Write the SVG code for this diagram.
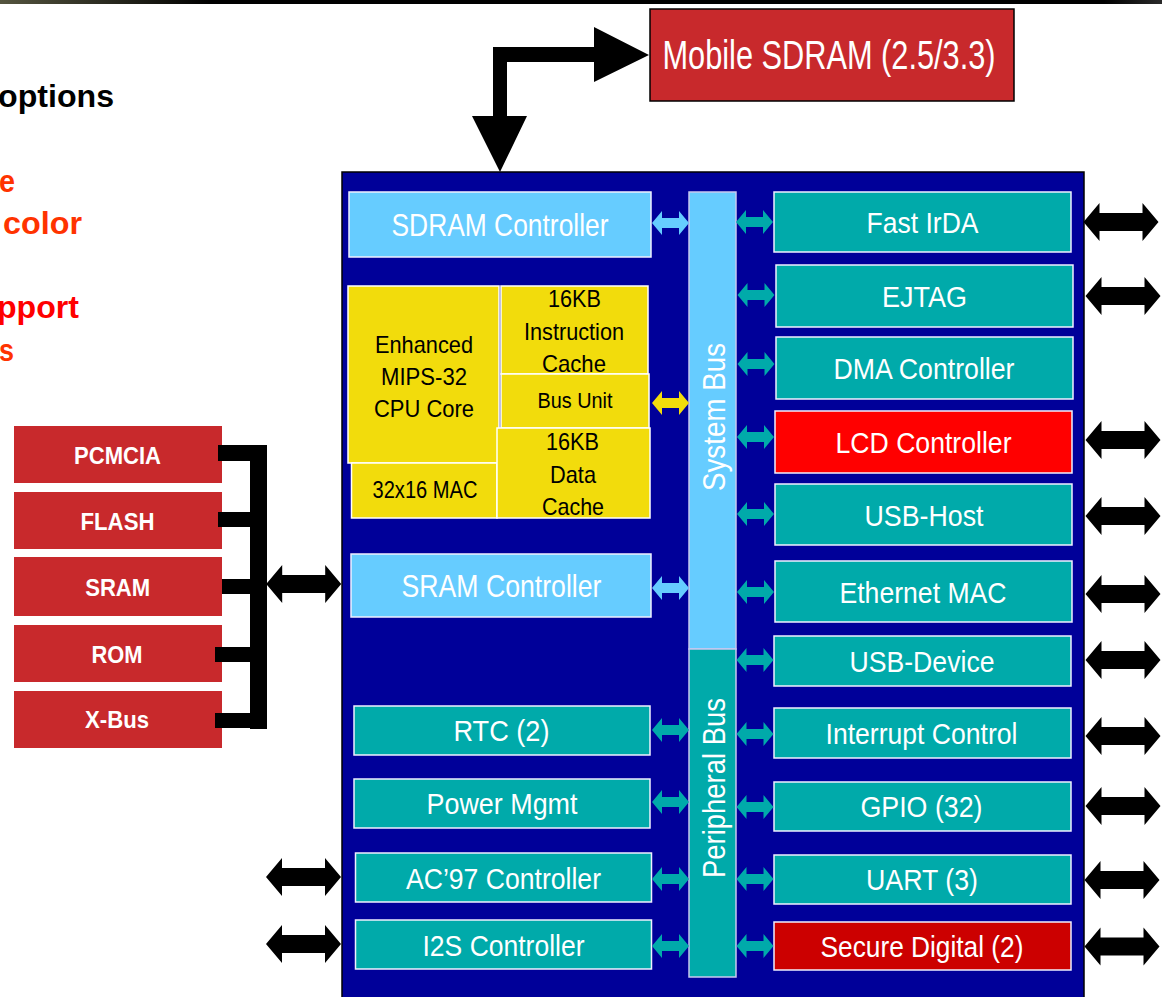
<svg xmlns="http://www.w3.org/2000/svg" xmlns:xlink="http://www.w3.org/1999/xlink" width="1162" height="997" viewBox="0 0 1162 997">
<defs>
<linearGradient id="topbar" x1="0" y1="0" x2="1" y2="0">
<stop offset="0" stop-color="#55553f"/>
<stop offset="0.18" stop-color="#000000"/>
<stop offset="0.95" stop-color="#000000"/>
<stop offset="1" stop-color="#2a2a2a"/>
</linearGradient>
<path id="barrow" d="M-37.5,0 L-21.5,-19 L-21.5,-9 L21.5,-9 L21.5,-19 L37.5,0 L21.5,19 L21.5,9 L-21.5,9 L-21.5,19 Z"/>
<path id="sarrow" d="M-18.5,0 L-8.5,-12 L-8.5,-5 L8.5,-5 L8.5,-12 L18.5,0 L8.5,12 L8.5,5 L-8.5,5 L-8.5,12 Z"/>
</defs>
<style>
.note{font-family:"Liberation Sans",Arial,sans-serif;font-weight:bold;font-size:32px;}
.lbl{font-family:"Liberation Sans",Arial,sans-serif;font-size:30px;fill:#fff;text-anchor:middle;}
.big{font-size:32px;}
.cpu{font-family:"Liberation Sans",Arial,sans-serif;font-size:24px;fill:#000;text-anchor:middle;}
.mem{font-family:"Liberation Sans",Arial,sans-serif;font-weight:bold;font-size:24px;fill:#fff;text-anchor:middle;}
.teal{fill:#00AAAA;stroke:#f0f0ff;stroke-width:1.5;}
.lblue{fill:#66CCFF;stroke:#f0f0ff;stroke-width:1.5;}
.yel{fill:#F2DC0C;stroke:#ffffff;stroke-width:1.5;}
.memr{fill:#C8292C;}
.bus{stroke:#c8c8f0;stroke-width:1.5;}
</style>
<rect x="0" y="0" width="1162" height="4" fill="url(#topbar)"/>
<g id="notes">
<text class="note" x="114" y="107" text-anchor="end" textLength="116" lengthAdjust="spacingAndGlyphs" fill="#000">options</text>
<text class="note" x="15" y="192" text-anchor="end" textLength="16" lengthAdjust="spacingAndGlyphs" fill="#FF3300">e</text>
<text class="note" x="82" y="234" text-anchor="end" textLength="79" lengthAdjust="spacingAndGlyphs" fill="#FF3300">color</text>
<text class="note" x="79" y="318" text-anchor="end" textLength="82" lengthAdjust="spacingAndGlyphs" fill="#FF0000">pport</text>
<text class="note" x="14" y="361" text-anchor="end" textLength="15" lengthAdjust="spacingAndGlyphs" fill="#FF3300">s</text>
</g>
<g id="chip">
<rect x="342" y="172" width="742" height="830" fill="#000099" stroke="#000" stroke-width="1.5"/>
</g>
<g id="mobile-sdram">
<rect x="650" y="9" width="364" height="92" fill="#C8292C" stroke="#000" stroke-width="1.5"/>
<text class="lbl" x="829" y="69" style="font-size:40px" textLength="333" lengthAdjust="spacingAndGlyphs">Mobile SDRAM (2.5/3.3)</text>
</g>
<g id="system-bus">
<rect class="bus" x="689" y="192" width="47" height="457" fill="#66CCFF"/>
<text class="lbl big" transform="translate(725,417) rotate(-90)" x="0" y="0" textLength="148" lengthAdjust="spacingAndGlyphs">System Bus</text>
</g>
<g id="peripheral-bus">
<rect class="bus" x="689" y="649" width="47" height="328" fill="#00AAAA"/>
<text class="lbl big" transform="translate(725,788) rotate(-90)" x="0" y="0" textLength="180" lengthAdjust="spacingAndGlyphs">Peripheral Bus</text>
</g>
<g id="sdram-controller">
<rect class="lblue" x="349" y="192" width="302" height="65"/>
<text class="lbl big" x="500" y="236" textLength="217" lengthAdjust="spacingAndGlyphs">SDRAM Controller</text>
</g>
<g id="cpu-core">
<rect class="yel" x="348" y="286" width="151" height="177"/>
<text class="cpu" x="424" y="353" textLength="98" lengthAdjust="spacingAndGlyphs">Enhanced</text>
<text class="cpu" x="424" y="385" textLength="86" lengthAdjust="spacingAndGlyphs">MIPS-32</text>
<text class="cpu" x="424" y="417" textLength="100" lengthAdjust="spacingAndGlyphs">CPU Core</text>
</g>
<g id="mac">
<rect class="yel" x="351.5" y="463" width="145.5" height="55"/>
<text class="cpu" x="425" y="498" textLength="105" lengthAdjust="spacingAndGlyphs">32x16 MAC</text>
</g>
<g id="icache">
<rect class="yel" x="501" y="286" width="147" height="88"/>
<text class="cpu" x="574.5" y="307" textLength="53" lengthAdjust="spacingAndGlyphs">16KB</text>
<text class="cpu" x="574" y="340" textLength="100" lengthAdjust="spacingAndGlyphs">Instruction</text>
<text class="cpu" x="574" y="372" textLength="64" lengthAdjust="spacingAndGlyphs">Cache</text>
</g>
<g id="bus-unit">
<rect class="yel" x="501" y="374" width="148" height="54"/>
<text class="cpu" x="575" y="408" style="font-size:22px" textLength="75" lengthAdjust="spacingAndGlyphs">Bus Unit</text>
</g>
<g id="dcache">
<rect class="yel" x="497" y="428" width="153" height="90"/>
<text class="cpu" x="572.5" y="450" textLength="53" lengthAdjust="spacingAndGlyphs">16KB</text>
<text class="cpu" x="573" y="483" textLength="46" lengthAdjust="spacingAndGlyphs">Data</text>
<text class="cpu" x="573" y="515" textLength="62" lengthAdjust="spacingAndGlyphs">Cache</text>
</g>
<g id="sram-controller">
<rect class="lblue" x="351" y="554" width="300" height="63"/>
<text class="lbl big" x="501.5" y="597" textLength="200" lengthAdjust="spacingAndGlyphs">SRAM Controller</text>
</g>
<g id="rtc">
<rect class="teal" x="354" y="706" width="296" height="49"/>
<text class="lbl" x="501.5" y="741" textLength="96" lengthAdjust="spacingAndGlyphs">RTC (2)</text>
</g>
<g id="power-mgmt">
<rect class="teal" x="354" y="779" width="296" height="49"/>
<text class="lbl" x="502" y="814" textLength="151" lengthAdjust="spacingAndGlyphs">Power Mgmt</text>
</g>
<g id="ac97">
<rect class="teal" x="355.5" y="853" width="296" height="49"/>
<text class="lbl" x="503.5" y="889" textLength="195" lengthAdjust="spacingAndGlyphs">AC’97 Controller</text>
</g>
<g id="i2s">
<rect class="teal" x="355.5" y="920" width="296" height="49"/>
<text class="lbl" x="503.5" y="956" textLength="162" lengthAdjust="spacingAndGlyphs">I2S Controller</text>
</g>
<g id="fast-irda">
<rect class="teal" x="774" y="192" width="297" height="60"/>
<text class="lbl" x="922.5" y="233" textLength="112" lengthAdjust="spacingAndGlyphs">Fast IrDA</text>
</g>
<g id="ejtag">
<rect class="teal" x="776" y="265" width="297" height="62"/>
<text class="lbl" x="924.5" y="307" textLength="85" lengthAdjust="spacingAndGlyphs">EJTAG</text>
</g>
<g id="dma">
<rect class="teal" x="776" y="337" width="297" height="62"/>
<text class="lbl" x="924" y="379" textLength="181" lengthAdjust="spacingAndGlyphs">DMA Controller</text>
</g>
<g id="lcd">
<rect x="775" y="411" width="297" height="62" fill="#FF0000" stroke="#f0f0ff" stroke-width="1.5"/>
<text class="lbl" x="923.5" y="453" textLength="176" lengthAdjust="spacingAndGlyphs">LCD Controller</text>
</g>
<g id="usb-host">
<rect class="teal" x="775" y="484" width="297" height="61"/>
<text class="lbl" x="924" y="526" textLength="119" lengthAdjust="spacingAndGlyphs">USB-Host</text>
</g>
<g id="ethernet">
<rect class="teal" x="775" y="561" width="297" height="61"/>
<text class="lbl" x="923" y="603" textLength="167" lengthAdjust="spacingAndGlyphs">Ethernet MAC</text>
</g>
<g id="usb-device">
<rect class="teal" x="774" y="636" width="297" height="50"/>
<text class="lbl" x="922" y="672" textLength="145" lengthAdjust="spacingAndGlyphs">USB-Device</text>
</g>
<g id="interrupt">
<rect class="teal" x="774" y="708" width="297" height="50"/>
<text class="lbl" x="921.5" y="744" textLength="192" lengthAdjust="spacingAndGlyphs">Interrupt Control</text>
</g>
<g id="gpio">
<rect class="teal" x="774" y="782" width="297" height="49"/>
<text class="lbl" x="921.5" y="817" textLength="122" lengthAdjust="spacingAndGlyphs">GPIO (32)</text>
</g>
<g id="uart">
<rect class="teal" x="774" y="855" width="297" height="49"/>
<text class="lbl" x="922" y="890" textLength="112" lengthAdjust="spacingAndGlyphs">UART (3)</text>
</g>
<g id="secure-digital">
<rect x="774" y="922" width="297" height="48" fill="#CC0000" stroke="#f0f0ff" stroke-width="1.5"/>
<text class="lbl" x="922" y="957" textLength="203" lengthAdjust="spacingAndGlyphs">Secure Digital (2)</text>
</g>
<g id="pcmcia">
<rect class="memr" x="14" y="426" width="208" height="57"/>
<text class="mem" x="117.5" y="464" textLength="87" lengthAdjust="spacingAndGlyphs">PCMCIA</text>
</g>
<g id="flash">
<rect class="memr" x="14" y="492" width="208" height="57"/>
<text class="mem" x="117.5" y="530" textLength="74" lengthAdjust="spacingAndGlyphs">FLASH</text>
</g>
<g id="sram">
<rect class="memr" x="14" y="557" width="208" height="59"/>
<text class="mem" x="117.7" y="596" textLength="65" lengthAdjust="spacingAndGlyphs">SRAM</text>
</g>
<g id="rom">
<rect class="memr" x="14" y="625" width="208" height="57"/>
<text class="mem" x="117" y="663" textLength="51" lengthAdjust="spacingAndGlyphs">ROM</text>
</g>
<g id="xbus">
<rect class="memr" x="14" y="691" width="208" height="57"/>
<text class="mem" x="117" y="728" textLength="64" lengthAdjust="spacingAndGlyphs">X-Bus</text>
</g>
<g id="connectors">
<path d="M493,47 L594,47 L594,27 L649,55 L594,82 L594,62 L507,62 L507,116 L527,116 L500,172 L472,116 L493,116 Z" fill="#000"/>
<g fill="#000">
<rect x="250" y="445" width="17" height="284"/>
<rect x="218" y="445" width="49" height="16"/>
<rect x="218" y="512" width="33" height="15"/>
<rect x="222" y="579" width="29" height="15"/>
<rect x="215" y="647" width="36" height="15"/>
<rect x="215" y="713" width="52" height="15"/>
</g>
<g fill="#000">
<use href="#barrow" xlink:href="#barrow" x="303.7" y="584"/>
<use href="#barrow" xlink:href="#barrow" x="303.5" y="877"/>
<use href="#barrow" xlink:href="#barrow" x="303.5" y="944"/>
<use href="#barrow" xlink:href="#barrow" x="1121" y="222"/>
<use href="#barrow" xlink:href="#barrow" x="1123" y="296"/>
<use href="#barrow" xlink:href="#barrow" x="1123" y="440"/>
<use href="#barrow" xlink:href="#barrow" x="1123" y="516"/>
<use href="#barrow" xlink:href="#barrow" x="1123" y="594"/>
<use href="#barrow" xlink:href="#barrow" x="1123" y="660"/>
<use href="#barrow" xlink:href="#barrow" x="1123" y="736"/>
<use href="#barrow" xlink:href="#barrow" x="1123" y="806"/>
<use href="#barrow" xlink:href="#barrow" x="1122" y="880"/>
<use href="#barrow" xlink:href="#barrow" x="1122" y="946.5"/>
</g>
<use href="#sarrow" xlink:href="#sarrow" x="670.5" y="223" fill="#66CCFF"/>
<use href="#sarrow" xlink:href="#sarrow" x="670.5" y="403" fill="#F2DC0C"/>
<use href="#sarrow" xlink:href="#sarrow" x="670.5" y="588" fill="#66CCFF"/>
<g fill="#00AAAA">
<use href="#sarrow" xlink:href="#sarrow" x="670.5" y="730"/>
<use href="#sarrow" xlink:href="#sarrow" x="670.5" y="802"/>
<use href="#sarrow" xlink:href="#sarrow" x="670.5" y="879"/>
<use href="#sarrow" xlink:href="#sarrow" x="670.5" y="946"/>
<use href="#sarrow" xlink:href="#sarrow" x="754.5" y="222"/>
<use href="#sarrow" xlink:href="#sarrow" x="756" y="295"/>
<use href="#sarrow" xlink:href="#sarrow" x="756" y="364"/>
<use href="#sarrow" xlink:href="#sarrow" x="755.5" y="437"/>
<use href="#sarrow" xlink:href="#sarrow" x="755.5" y="514"/>
<use href="#sarrow" xlink:href="#sarrow" x="755.5" y="592"/>
<use href="#sarrow" xlink:href="#sarrow" x="755" y="660"/>
<use href="#sarrow" xlink:href="#sarrow" x="755" y="734"/>
<use href="#sarrow" xlink:href="#sarrow" x="755" y="807"/>
<use href="#sarrow" xlink:href="#sarrow" x="755" y="879"/>
<use href="#sarrow" xlink:href="#sarrow" x="755" y="946"/>
</g>
</g>
</svg>
